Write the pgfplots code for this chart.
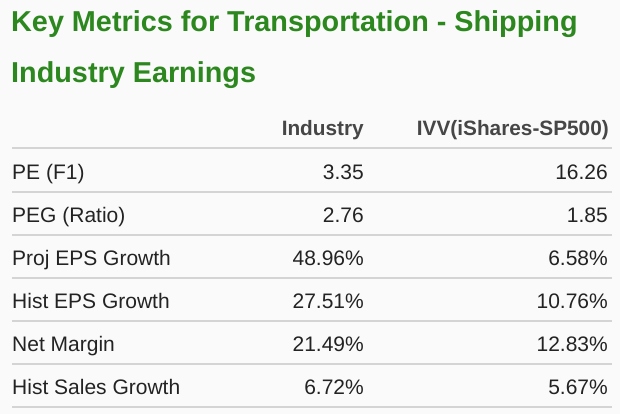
\documentclass[border=0pt]{standalone}
\usepackage{pgfplots}
\usepackage{pgfplotstable}
\pgfplotsset{compat=1.18}
\usepackage{fontspec}
\setmainfont{Liberation Sans}
\definecolor{titlegreen}{RGB}{44,136,30}
\definecolor{txt}{RGB}{35,35,35}
\definecolor{hdr}{RGB}{70,70,70}
\definecolor{rule}{RGB}{212,212,212}
\definecolor{bg}{RGB}{250,250,250}

\pgfplotstableread[col sep=comma]{
y,label,ind,ivv
179,PE (F1),3.35,16.26
222,PEG (Ratio),2.76,1.85
}\ratiorows
\pgfplotstableread[col sep=comma]{
y,label,ind,ivv
265,Proj EPS Growth,48.96,6.58
308,Hist EPS Growth,27.51,10.76
351,Net Margin,21.49,12.83
394,Hist Sales Growth,6.72,5.67
}\pctrows
\pgfplotstableread[col sep=comma]{
y
148
192
235
278
321
364
407
}\rules

\begin{document}
\begin{tikzpicture}[x=1pt,y=1pt]
\begin{axis}[
  scale only axis, width=620pt, height=414pt,
  xmin=0, xmax=620, ymin=0, ymax=414, y dir=reverse,
  hide axis, clip=false,
  /pgf/number format/assume math mode=true,
  every node near coord/.append style={font=\fontsize{21}{24}\selectfont, text=txt, inner sep=0pt},
]
\fill[bg] (axis cs:0,0) rectangle (axis cs:620,414);
% rules
\pgfplotsinvokeforeach{0,...,6}{
  \pgfplotstablegetelem{#1}{y}\of{\rules}
  \edef\yy{\pgfplotsretval}
  \edef\tmp{\noexpand\addplot[rule, line width=1.3pt, forget plot] coordinates {(12,\yy) (612,\yy)};}
  \tmp
}
% title
\node[anchor=base west, inner sep=0pt, text=titlegreen, font=\bfseries\fontsize{28.8}{32}\selectfont] at (axis cs:11,32) {Key Metrics for Transportation - Shipping};
\node[anchor=base west, inner sep=0pt, text=titlegreen, font=\bfseries\fontsize{28.8}{32}\selectfont] at (axis cs:11,83) {Industry Earnings};
% header
\node[anchor=base east, inner sep=0pt, text=hdr, font=\bfseries\fontsize{20.8}{24}\selectfont] at (axis cs:364,136) {Industry};
\node[anchor=base east, inner sep=0pt, text=hdr, font=\bfseries\fontsize{20.8}{24}\selectfont] at (axis cs:609,136) {IVV(iShares-SP500)};
% row labels
\addplot[draw=none, mark=none, nodes near coords, point meta=explicit symbolic,
  nodes near coords align={anchor=base west}] table[x expr=12, y=y, meta=label] {\ratiorows};
\addplot[draw=none, mark=none, nodes near coords, point meta=explicit symbolic,
  nodes near coords align={anchor=base west}] table[x expr=12, y=y, meta=label] {\pctrows};
% ratio values
\addplot[draw=none, mark=none, point meta=explicit, nodes near coords={\pgfmathprintnumber[fixed,precision=2,fixed zerofill]{\pgfplotspointmeta}},
  nodes near coords align={anchor=base east}] table[x expr=364, y=y, meta=ind] {\ratiorows};
\addplot[draw=none, mark=none, point meta=explicit, nodes near coords={\pgfmathprintnumber[fixed,precision=2,fixed zerofill]{\pgfplotspointmeta}},
  nodes near coords align={anchor=base east}] table[x expr=608, y=y, meta=ivv] {\ratiorows};
% percent values
\addplot[draw=none, mark=none, point meta=explicit, nodes near coords={\pgfmathprintnumber[fixed,precision=2,fixed zerofill]{\pgfplotspointmeta}\%},
  nodes near coords align={anchor=base east}] table[x expr=364, y=y, meta=ind] {\pctrows};
\addplot[draw=none, mark=none, point meta=explicit, nodes near coords={\pgfmathprintnumber[fixed,precision=2,fixed zerofill]{\pgfplotspointmeta}\%},
  nodes near coords align={anchor=base east}] table[x expr=608, y=y, meta=ivv] {\pctrows};
\end{axis}
\end{tikzpicture}
\end{document}
